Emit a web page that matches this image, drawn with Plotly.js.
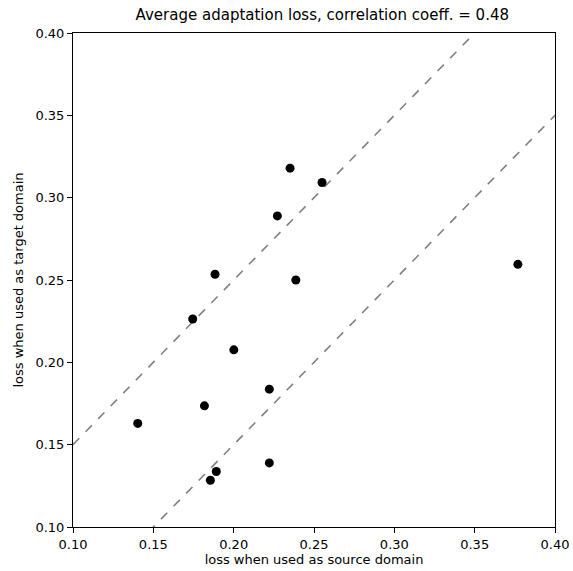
<!DOCTYPE html>
<html>
<head>
<meta charset="utf-8">
<script src="https://cdn.plot.ly/plotly-3.0.1.min.js"></script>
<style>html,body{margin:0;padding:0;background:#fff;}#chart{width:573px;height:571px;}</style>
</head>
<body>
<div id="chart"></div>
<script>
const sourceLoss = [0.2351, 0.2550, 0.2272, 0.1884, 0.2387, 0.1745, 0.2001, 0.2222, 0.1403, 0.1818, 0.2222, 0.1892, 0.1855, 0.3769];
const targetLoss = [0.3179, 0.3092, 0.2889, 0.2535, 0.2500, 0.2263, 0.2076, 0.1837, 0.1629, 0.1736, 0.1389, 0.1337, 0.1284, 0.2595];
const axisRange = [0.10, 0.40];
const diagonalOffsets = [0.05, -0.05];
const tickVals = [0.10, 0.15, 0.20, 0.25, 0.30, 0.35, 0.40];
const titleText = "Average adaptation loss, correlation coeff. = 0.48";
const xLabel = "loss when used as source domain";
const yLabel = "loss when used as target domain";

const font = "DejaVu Sans, sans-serif";
const traces = [];
diagonalOffsets.forEach(off => {
  traces.push({
    x: [axisRange[0], axisRange[1]],
    y: [axisRange[0] + off, axisRange[1] + off],
    mode: "lines",
    line: {color: "#808080", dash: "dash", width: 1.6},
    hoverinfo: "skip",
    showlegend: false
  });
});
traces.push({
  x: sourceLoss,
  y: targetLoss,
  mode: "markers",
  marker: {color: "#000000", size: 9},
  showlegend: false
});

const axisCommon = {
  range: axisRange,
  tickvals: tickVals,
  tickformat: ".2f",
  showgrid: false,
  zeroline: false,
  showline: true,
  linecolor: "#000",
  linewidth: 1,
  mirror: true,
  ticks: "outside",
  ticklen: 5,
  tickwidth: 1,
  tickcolor: "#000",
  tickfont: {family: font, size: 13, color: "#000"}
};

const layout = {
  width: 573,
  height: 571,
  margin: {l: 73, r: 18, t: 33, b: 44},
  paper_bgcolor: "#fff",
  plot_bgcolor: "#fff",
  title: {text: titleText, font: {family: font, size: 15, color: "#000"}, x: 0.5625, xanchor: "center", y: 0.975, yanchor: "middle"},
  xaxis: Object.assign({}, axisCommon, {title: {text: xLabel, font: {family: font, size: 13, color: "#000"}, standoff: 2}}),
  yaxis: Object.assign({}, axisCommon, {title: {text: yLabel, font: {family: font, size: 13, color: "#000"}, standoff: 8}}),
  showlegend: false
};

Plotly.newPlot("chart", traces, layout, {staticPlot: true, displayModeBar: false});
</script>
</body>
</html>
